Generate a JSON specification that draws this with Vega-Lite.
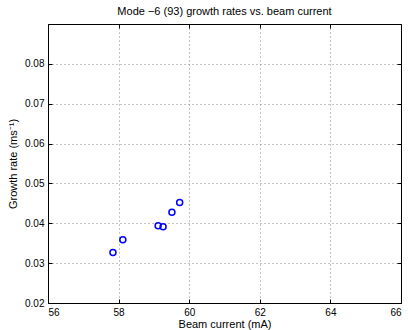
{
  "$schema": "https://vega.github.io/schema/vega-lite/v6.json",
  "autosize": {"type": "none"},
  "width": 353,
  "height": 279,
  "padding": {"left": 48, "top": 24, "right": 7, "bottom": 27},
  "background": "white",
  "config": {
    "font": "Liberation Sans",
    "view": {"stroke": "#000", "strokeWidth": 1},
    "axis": {
      "labelFont": "Liberation Sans",
      "titleFont": "Liberation Sans",
      "labelFontSize": 10,
      "titleFontSize": 11,
      "labelColor": "#000",
      "titleColor": "#000",
      "titleFontWeight": "normal",
      "domainColor": "#000",
      "tickColor": "#000",
      "gridColor": "#888",
      "gridDash": [1, 3],
      "gridWidth": 1,
      "tickSize": -4,
      "labelPadding": 8
    }
  },
  "title": {
    "text": "Mode \u22126 (93) growth rates vs. beam current",
    "fontSize": 11,
    "fontWeight": "normal",
    "font": "Liberation Sans",
    "color": "#000",
    "offset": 7
  },
  "data": {
    "values": [
      {"current": 57.84, "rate": 0.0327},
      {"current": 58.12, "rate": 0.0359},
      {"current": 59.12, "rate": 0.0394},
      {"current": 59.26, "rate": 0.0391},
      {"current": 59.51, "rate": 0.0428},
      {"current": 59.73, "rate": 0.0452}
    ]
  },
  "layer": [
    {
      "mark": {"type": "point", "shape": "circle", "filled": false, "color": "#0000ff", "size": 36, "strokeWidth": 1.5, "opacity": 1},
      "encoding": {
        "x": {"field": "current", "type": "quantitative", "scale": {"domain": [56, 66], "nice": false, "zero": false},
          "axis": {"values": [56, 58, 60, 62, 64, 66], "title": "Beam current (mA)", "titlePadding": 1, "grid": true}},
        "y": {"field": "rate", "type": "quantitative", "scale": {"domain": [0.02, 0.09], "nice": false, "zero": false},
          "axis": {"values": [0.02, 0.03, 0.04, 0.05, 0.06, 0.07, 0.08], "format": ".2f", "title": "Growth rate (ms\u207b\u00b9)", "titlePadding": 6, "grid": true}}
      }
    },
    {
      "mark": {"type": "point", "opacity": 0},
      "encoding": {
        "x": {"field": "current", "type": "quantitative",
          "axis": {"orient": "top", "values": [56, 58, 60, 62, 64, 66], "labels": false, "title": null, "grid": false}},
        "y": {"field": "rate", "type": "quantitative",
          "axis": {"orient": "right", "values": [0.02, 0.03, 0.04, 0.05, 0.06, 0.07, 0.08], "labels": false, "title": null, "grid": false}}
      }
    }
  ],
  "resolve": {"axis": {"x": "independent", "y": "independent"}}
}
